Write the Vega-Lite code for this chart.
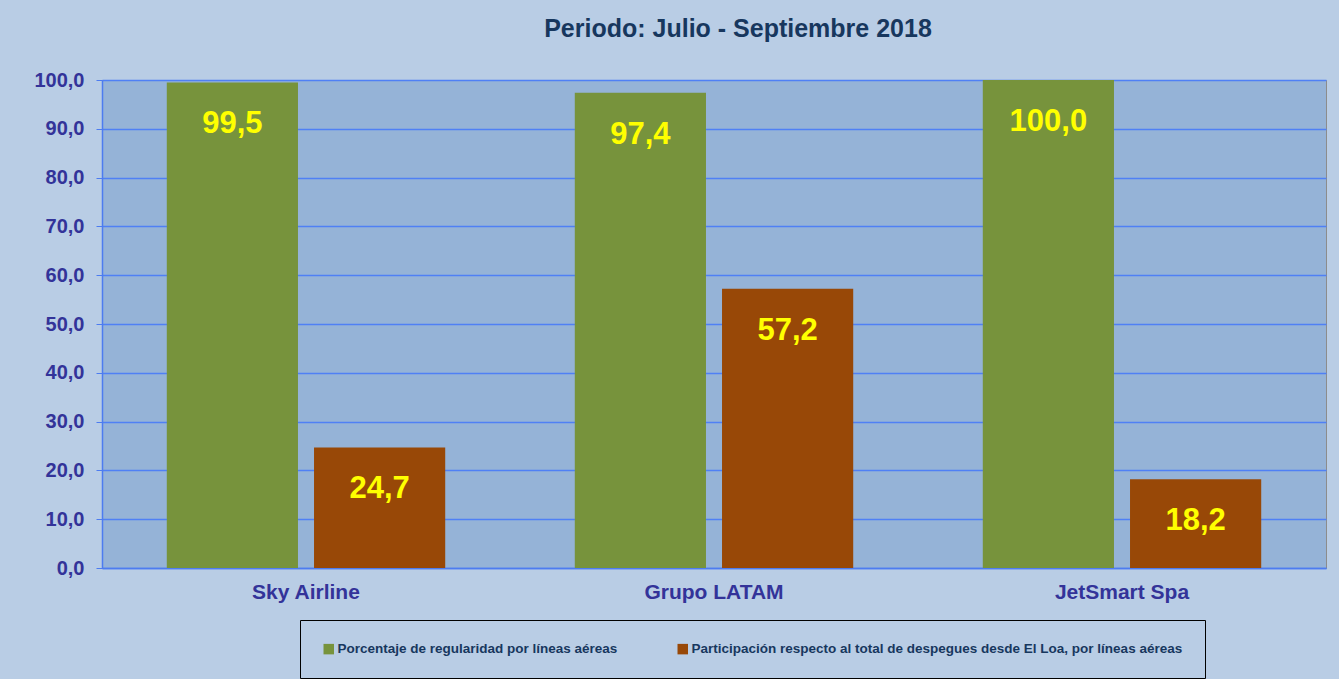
{
  "$schema": "https://vega.github.io/schema/vega-lite/v6.json",
  "width": 1224,
  "height": 488,
  "autosize": "none",
  "padding": {"left": 102, "top": 80, "right": 13, "bottom": 111},
  "background": "#B9CDE5",
  "config": {
    "locale": {"number": {"decimal": ",", "thousands": ".", "grouping": [3], "currency": ["", " €"]}},
    "view": {"fill": "#95B3D7", "stroke": "#8C8C8C", "strokeWidth": 1},
    "font": "Liberation Sans"
  },
  "title": {
    "text": "Periodo: Julio - Septiembre  2018",
    "fontSize": 25,
    "fontWeight": "bold",
    "color": "#17375E",
    "font": "Liberation Sans",
    "anchor": "middle",
    "baseline": "alphabetic",
    "offset": 8,
    "dx": 24
  },
  "data": {
    "values": [
      {"aerolinea": "Sky Airline", "serie": "Porcentaje de regularidad por líneas aéreas", "valor": 99.5},
      {"aerolinea": "Sky Airline", "serie": "Participación respecto al total de despegues desde El Loa, por líneas aéreas", "valor": 24.7},
      {"aerolinea": "Grupo LATAM", "serie": "Porcentaje de regularidad por líneas aéreas", "valor": 97.4},
      {"aerolinea": "Grupo LATAM", "serie": "Participación respecto al total de despegues desde El Loa, por líneas aéreas", "valor": 57.2},
      {"aerolinea": "JetSmart Spa", "serie": "Porcentaje de regularidad por líneas aéreas", "valor": 100.0},
      {"aerolinea": "JetSmart Spa", "serie": "Participación respecto al total de despegues desde El Loa, por líneas aéreas", "valor": 18.2}
    ]
  },
  "encoding": {
    "x": {
      "field": "aerolinea",
      "type": "nominal",
      "sort": ["Sky Airline", "Grupo LATAM", "JetSmart Spa"],
      "scale": {"paddingInner": 0, "paddingOuter": 0},
      "axis": {
        "title": null,
        "labelAngle": 0,
        "labelFontSize": 21,
        "labelFontWeight": "bold",
        "labelColor": "#333399",
        "labelPadding": 13,
        "ticks": false,
        "tickSize": 0,
        "domainColor": "#4D7CF0",
        "domainWidth": 1.5,
        "grid": false
      }
    },
    "xOffset": {
      "field": "serie",
      "type": "nominal",
      "sort": ["Porcentaje de regularidad por líneas aéreas", "Participación respecto al total de despegues desde El Loa, por líneas aéreas"],
      "scale": {"paddingInner": 0.109, "paddingOuter": 0.44}
    },
    "y": {
      "field": "valor",
      "type": "quantitative",
      "scale": {"domain": [0, 100], "nice": false},
      "axis": {
        "title": null,
        "values": [0, 10, 20, 30, 40, 50, 60, 70, 80, 90, 100],
        "format": ".1f",
        "labelFontSize": 20,
        "labelFontWeight": "bold",
        "labelColor": "#333399",
        "labelPadding": 12,
        "tickSize": 6,
        "tickColor": "#4D7CF0",
        "domainColor": "#4D7CF0",
        "domainWidth": 1.5,
        "grid": true,
        "gridColor": "#4F80F5",
        "gridOpacity": 1,
        "gridWidth": 1.3
      }
    }
  },
  "layer": [
    {
      "mark": {"type": "bar"},
      "encoding": {
        "color": {
          "field": "serie",
          "type": "nominal",
          "scale": {
            "domain": ["Porcentaje de regularidad por líneas aéreas", "Participación respecto al total de despegues desde El Loa, por líneas aéreas"],
            "range": ["#77933C", "#984807"]
          },
          "legend": {
            "title": null,
            "orient": "none",
            "direction": "horizontal",
            "legendX": 198,
            "legendY": 540,
            "padding": 22,
            "strokeColor": "#000000",
            "fillColor": "#B9CDE5",
            "symbolType": "square",
            "symbolSize": 110,
            "symbolStrokeWidth": 0,
            "symbolOpacity": 1,
            "labelOffset": 2,
            "labelFontSize": 13.5,
            "labelFontWeight": "bold",
            "labelColor": "#17375E",
            "labelLimit": 0,
            "columnPadding": 58
          }
        }
      }
    },
    {
      "mark": {
        "type": "text",
        "baseline": "middle",
        "align": "center",
        "dy": 42,
        "fontSize": 31,
        "fontWeight": "bold",
        "fill": "#FFFF00"
      },
      "encoding": {
        "text": {"field": "valor", "type": "quantitative", "format": ".1f"}
      }
    }
  ]
}
